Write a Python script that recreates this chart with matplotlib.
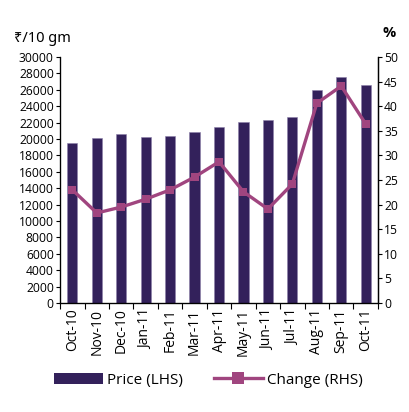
import numpy as np
import matplotlib
matplotlib.use("Agg")
import matplotlib.pyplot as plt
from matplotlib.lines import Line2D
from matplotlib.patches import Patch

plt.rcParams["font.family"] = ["Open Sans", "Noto Sans", "DejaVu Sans"]

# data
months = ["Oct-10", "Nov-10", "Dec-10", "Jan-11", "Feb-11", "Mar-11", "Apr-11",
          "May-11", "Jun-11", "Jul-11", "Aug-11", "Sep-11", "Oct-11"]
price = [19500, 20100, 20600, 20200, 20400, 20900, 21500,
         22100, 22300, 22700, 26000, 27600, 26600]
change = [23.0, 18.3, 19.5, 21.1, 23.0, 25.6, 28.7,
          22.6, 19.1, 24.2, 40.6, 44.1, 36.4]

BAR_COLOR = "#33215b"
LINE_COLOR = "#a0457f"

fig = plt.figure(figsize=(4.09, 4.12), dpi=100)
ax = fig.add_axes([0.147, 0.2646, 0.777, 0.597])
x = np.arange(len(months))

ax.bar(x, price, width=0.42, color=BAR_COLOR, edgecolor="#8c80aa", linewidth=0.4)
ax.set_xlim(-0.5, len(months) - 0.5)
ax.set_ylim(0, 30000)
ax.set_yticks(np.arange(0, 30001, 2000))
ax.tick_params(axis="y", labelsize=8.7, length=3, width=0.8, pad=1.5)
ax.set_xticks(x)
ax.set_xticklabels(months, rotation=90, fontsize=10)
ax.set_xticks(np.arange(-0.5, len(months), 1), minor=True)
ax.tick_params(axis="x", which="major", length=0, pad=4)
ax.tick_params(axis="x", which="minor", length=4, width=0.8, direction="out")
ax.spines["top"].set_visible(False)
for s in ["left", "bottom", "right"]:
    ax.spines[s].set_linewidth(0.9)

ax2 = ax.twinx()
ax2.plot(x, change, color=LINE_COLOR, linewidth=2.4, marker="s", markersize=6,
         markeredgewidth=0)
ax2.set_ylim(0, 50)
ax2.set_yticks(np.arange(0, 51, 5))
ax2.tick_params(axis="y", labelsize=8.7, length=3, width=0.8, pad=1.5)
ax2.spines["top"].set_visible(False)
ax2.spines["right"].set_linewidth(0.9)

fig.text(0.035, 0.888, "₹/10 gm", fontsize=10.5, ha="left", va="bottom",
         family=["Noto Sans", "DejaVu Sans"])
fig.text(0.951, 0.903, "%", fontsize=10.5, fontweight="bold", ha="center", va="bottom")

handles = [Patch(facecolor=BAR_COLOR, label="Price (LHS)"),
           Line2D([0], [0], color=LINE_COLOR, linewidth=2.4, marker="s",
                  markersize=8, markeredgewidth=0, label="Change (RHS)")]
fig.legend(handles=handles, loc="center", bbox_to_anchor=(0.51, 0.077), ncol=2,
           frameon=False, fontsize=11, handlelength=3.2, handleheight=0.8,
           columnspacing=2.0, handletextpad=0.3)

fig.savefig("out.png", dpi=100)
